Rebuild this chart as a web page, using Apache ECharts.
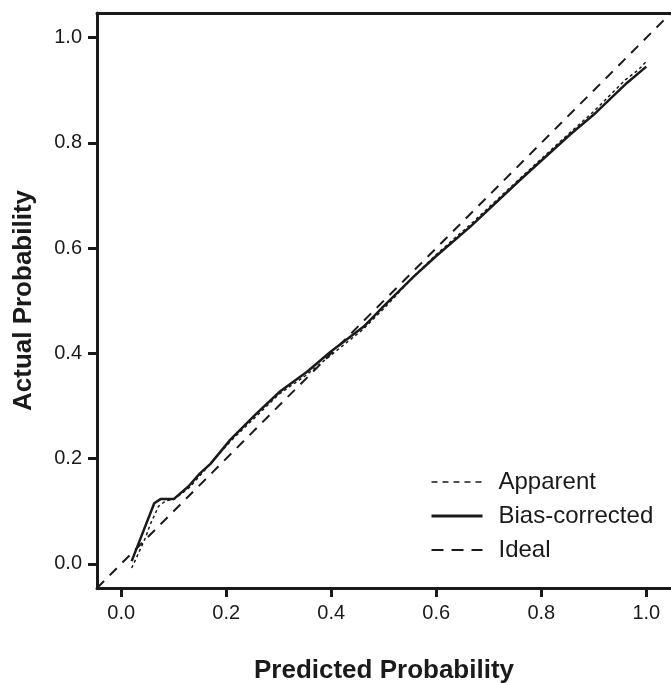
<!DOCTYPE html>
<html>
<head>
<meta charset="utf-8">
<script src="https://cdn.jsdelivr.net/npm/echarts@6/dist/echarts.min.js"></script>
<style>
  html, body { margin: 0; padding: 0; background: #fff; }
  #chart { width: 671px; height: 683px; }
</style>
</head>
<body>
<div id="chart"></div>
<script>
// tick positions on both axes
const ticks = [0, 0.2, 0.4, 0.6, 0.8, 1.0]

// calibration curves, [predicted, actual]
const biasCorrected = [
  [0.020, 0.005], [0.063, 0.115], [0.075, 0.123], [0.100, 0.123], [0.128, 0.147],
  [0.150, 0.172], [0.170, 0.190], [0.208, 0.236], [0.258, 0.286], [0.303, 0.328],
  [0.354, 0.365], [0.400, 0.404], [0.462, 0.451], [0.500, 0.490], [0.557, 0.546],
  [0.600, 0.585], [0.665, 0.641], [0.760, 0.730], [0.855, 0.816], [0.900, 0.854],
  [0.963, 0.914], [1.000, 0.945],
]
const apparent = [
  [0.020, -0.008], [0.033, 0.020], [0.046, 0.049], [0.055, 0.074], [0.071, 0.109],
  [0.085, 0.120], [0.100, 0.122], [0.130, 0.145], [0.170, 0.190], [0.210, 0.235],
  [0.260, 0.283], [0.300, 0.322], [0.350, 0.357], [0.400, 0.397], [0.460, 0.445],
  [0.500, 0.485], [0.557, 0.546], [0.600, 0.588], [0.665, 0.645], [0.760, 0.733],
  [0.855, 0.820], [0.900, 0.860], [0.960, 0.920], [0.985, 0.939], [1.000, 0.955],
]
const ideal = [[-0.046, -0.046], [1.047, 1.047]]

const axMin = -0.046
const axMax = 1.047
const font = 'Liberation Sans, Arial, sans-serif'
const ink = '#1a1a1a'

const chart = echarts.init(document.getElementById('chart'))

function valueAxis(extra) {
  return Object.assign({
    type: 'value',
    min: axMin,
    max: axMax,
    splitLine: { show: false },
    axisLine: { show: true, onZero: false, lineStyle: { color: ink, width: 3 } },
    axisTick: { show: true, customValues: ticks, length: 9, lineStyle: { color: ink, width: 3 } },
    axisLabel: {
      customValues: ticks,
      formatter: (v) => v.toFixed(1),
      color: ink,
      fontFamily: font,
      fontSize: 20,
      margin: 15,
    },
    nameLocation: 'middle',
    nameTextStyle: { color: ink, fontFamily: font, fontSize: 26, fontWeight: 'bold' },
  }, extra)
}

chart.setOption({
  animation: false,
  grid: { left: 97, top: 13, right: 0, bottom: 95, containLabel: false, outerBoundsMode: 'none' },
  legend: {
    orient: 'vertical',
    left: 425,
    top: 464,
    itemWidth: 51,
    itemHeight: 14,
    itemGap: 8,
    itemStyle: { color: 'transparent', borderWidth: 0 },
    textStyle: { color: ink, fontFamily: font, fontSize: 24, lineHeight: 26, padding: [0, 0, 0, 11] },
    data: [
      { name: 'Apparent', lineStyle: { type: [6, 5], width: 1.5 } },
      { name: 'Bias-corrected', lineStyle: { width: 3 } },
      { name: 'Ideal', lineStyle: { type: [12, 8], width: 2 } },
    ],
  },
  xAxis: [
    valueAxis({ name: 'Predicted Probability', nameGap: 70 }),
    {
      type: 'value', position: 'top', min: axMin, max: axMax,
      axisLine: { show: true, onZero: false, lineStyle: { color: ink, width: 3 } },
      axisTick: { show: false }, axisLabel: { show: false }, splitLine: { show: false },
    },
  ],
  yAxis: valueAxis({ name: 'Actual Probability', nameGap: 60 }),
  series: [
    {
      name: 'Apparent', type: 'line', data: apparent, symbol: 'none',
      lineStyle: { color: ink, width: 1.5, type: [3, 3] },
      itemStyle: { color: ink },
    },
    {
      name: 'Bias-corrected', type: 'line', data: biasCorrected, symbol: 'none',
      lineStyle: { color: ink, width: 2.5 },
      itemStyle: { color: ink },
    },
    {
      name: 'Ideal', type: 'line', data: ideal, symbol: 'none',
      lineStyle: { color: ink, width: 2, type: [10, 8] },
      itemStyle: { color: ink },
    },
  ],
})
</script>
</body>
</html>
